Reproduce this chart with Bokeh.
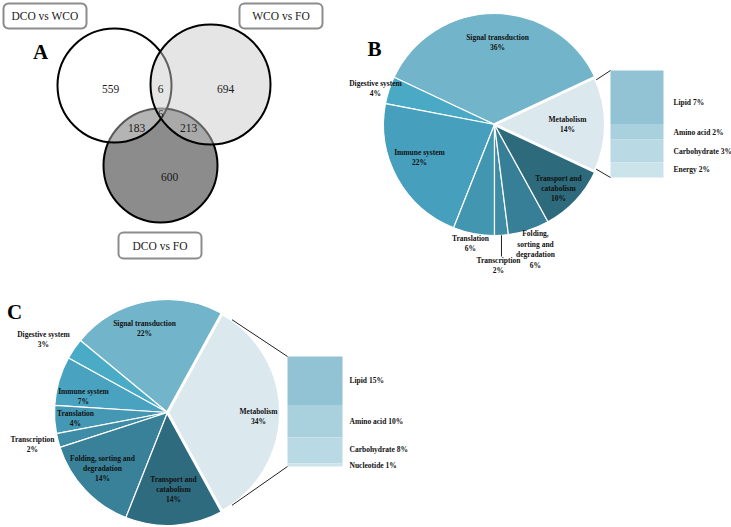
import numpy as np
from bokeh.plotting import figure
from bokeh.models import Range1d, ColumnDataSource
from bokeh.core.properties import value
from bokeh.embed import file_html
from bokeh.resources import INLINE

# ---------------- data ----------------
venn_sets = ["DCO vs WCO", "WCO vs FO", "DCO vs FO"]
# regions: A only, A∩B, B only, A∩B∩C, A∩C, B∩C, C only
venn_regions = ["A", "AB", "B", "ABC", "AC", "BC", "C"]
venn_counts = [559, 6, 694, 6, 183, 213, 600]

pie_categories = ["Metabolism", "Signal transduction", "Digestive system", "Immune system",
                  "Translation", "Transcription", "Folding, sorting and degradation",
                  "Transport and catabolism"]
pie_b_values = [14, 36, 4, 22, 6, 2, 6, 10]
bar_b_categories = ["Lipid", "Amino acid", "Carbohydrate", "Energy"]
bar_b_values = [7, 2, 3, 2]

pie_c_values = [34, 22, 3, 7, 4, 2, 14, 14]
bar_c_categories = ["Lipid", "Amino acid", "Carbohydrate", "Nucleotide"]
bar_c_values = [15, 10, 8, 1]

# ---------------- layout / style ----------------
SERIF = value("Liberation Serif")
W, H = 731, 527


def Y(py):
    return H - py


p = figure(width=W, height=H, x_range=Range1d(0, W), y_range=Range1d(0, H),
           x_axis_type=None, y_axis_type=None, toolbar_location=None,
           output_backend="svg", min_border=0, outline_line_color=None,
           background_fill_color="white", border_fill_color="white")
p.grid.visible = False

# ---------------- Venn (A) ----------------
venn_geom = {"A": (114, 85, 57), "B": (210, 84, 60), "C": (160, 165, 57)}
cx, cy, r = venn_geom["C"]
p.circle(x=[cx], y=[Y(cy)], radius=r, fill_color="#8c8c8c", fill_alpha=1,
         line_color="black", line_width=2)
cx, cy, r = venn_geom["A"]
p.circle(x=[cx], y=[Y(cy)], radius=r, fill_color="white", fill_alpha=0.35,
         line_color="black", line_width=2)
cx, cy, r = venn_geom["B"]
p.circle(x=[cx], y=[Y(cy)], radius=r, fill_color="#c9c9c9", fill_alpha=0.48,
         line_color="black", line_width=2)

venn_pos = {"A": (110, 88), "AB": (160, 88), "B": (225, 88), "ABC": (160, 113),
            "AC": (136, 127), "BC": (188, 127), "C": (169, 176)}
p.text(x=[venn_pos[k][0] for k in venn_regions], y=[Y(venn_pos[k][1]) for k in venn_regions],
       text=[str(c) for c in venn_counts], text_font=SERIF, text_font_size="11.5px",
       text_align="center", text_baseline="middle", text_color="#1a1a1a")

box_pos = [(3, 86, 3, 28), (239, 322, 3, 28), (118, 201, 232, 258)]
p.quad(left=[b[0] for b in box_pos], right=[b[1] for b in box_pos],
       top=[Y(b[2]) for b in box_pos], bottom=[Y(b[3]) for b in box_pos],
       fill_color="white", line_color="#8c8c8c", line_width=2, border_radius=5)
p.text(x=[(l + rr) / 2 for (l, rr, t, b) in box_pos],
       y=[Y((t + b) / 2) for (l, rr, t, b) in box_pos],
       text=venn_sets, text_font=SERIF, text_font_size="11.5px", text_align="center",
       text_baseline="middle", text_color="#1a1a1a")

# panel letters
p.text(x=[40, 374, 14], y=[Y(51), Y(48), Y(311)], text=["A", "B", "C"], text_font=SERIF,
       text_font_style="bold", text_font_size="21px", text_align="center",
       text_baseline="middle", text_color="black")


# ---------------- pies ----------------
def draw_pie(cx, cy, r, vals, colors):
    vals = np.asarray(vals, float)
    ang = vals / vals.sum() * 2 * np.pi
    start0 = -ang[0] / 2
    ends = start0 + np.cumsum(ang)
    starts = ends - ang
    n = len(vals)
    src = ColumnDataSource(dict(x=[cx] * n, y=[Y(cy)] * n, s=starts, e=ends, c=colors))
    p.wedge(x="x", y="y", radius=r, start_angle="s", end_angle="e", fill_color="c",
            line_color="white", line_width=1.2, source=src)
    p.wedge(x=[cx], y=[Y(cy)], radius=r, start_angle=[starts[0]], end_angle=[ends[0]],
            fill_color=colors[0], line_color="white", line_width=3)
    return starts, ends


def draw_bar(left, right, top_py, height_px, vals, colors):
    vals = np.asarray(vals, float)
    scale = height_px / vals.sum()
    cum = np.concatenate([[0], np.cumsum(vals)[:-1]])
    tops = Y(top_py) - cum * scale
    bottoms = tops - vals * scale
    p.quad(left=[left] * len(vals), right=[right] * len(vals), top=tops, bottom=bottoms,
           fill_color=colors, line_color=None)
    return tops[0], bottoms[-1]


def labels(pos, texts, size="7.5px"):
    p.text(x=[q[0] for q in pos], y=[Y(q[1]) for q in pos], text=texts, text_font=SERIF,
           text_font_style="bold", text_font_size=size, text_align="center",
           text_baseline="middle", text_color="#111111", text_line_height=1.15)


# ----- B -----
colors_b = ["#dbe8ee", "#72b5cb", "#4aa9c4", "#46a0bd", "#4396b0", "#3e8ca6", "#377f96", "#2d6a7c"]
bcx, bcy, br = 494, 124, 111
sb, eb = draw_pie(bcx, bcy, br, pie_b_values, colors_b)
wrap_b = {"Folding, sorting and degradation": "Folding,\nsorting and\ndegradation",
          "Transport and catabolism": "Transport and\ncatabolism"}
pos_b = [(567, 124), (497, 42), (375, 88), (419, 157), (470, 243), (498, 265), (535, 249),
         (558, 188)]
labels(pos_b, [f"{wrap_b.get(c, c)}\n{v}%" for c, v in zip(pie_categories, pie_b_values)])
# transcription leader line
mid_t = (sb[5] + eb[5]) / 2
p.segment(x0=[bcx + br * np.cos(mid_t)], y0=[Y(bcy) + br * np.sin(mid_t)],
          x1=[bcx + br * np.cos(mid_t)], y1=[Y(256)], line_color="#222222", line_width=1)

bar_b_colors = ["#92c3d4", "#a9d0dd", "#b9d9e4", "#cbe3eb"]
tb, bb = draw_bar(610, 663, 70, 107, bar_b_values, bar_b_colors)
ca = eb[0] - np.deg2rad(1.5)
p.segment(x0=[bcx + br * np.cos(ca), bcx + br * np.cos(-ca)],
          y0=[Y(bcy) + br * np.sin(ca), Y(bcy) + br * np.sin(-ca)],
          x1=[610, 610], y1=[tb, bb], line_color="#222222", line_width=1)
p.text(x=[673] * 4, y=[Y(102), Y(132), Y(151), Y(169)],
       text=[f"{c} {v}%" for c, v in zip(bar_b_categories, bar_b_values)], text_font=SERIF,
       text_font_style="bold", text_font_size="7.5px", text_align="left",
       text_baseline="middle", text_color="#111111")

# ----- C -----
colors_c = ["#dbe8ee", "#72b5cb", "#4aabc6", "#49a3c0", "#4598b3", "#3e8ca6", "#388198", "#2e6b7e"]
ccx, ccy, cr = 167, 412, 113
sc, ec = draw_pie(ccx, ccy, cr, pie_c_values, colors_c)
wrap_c = {"Folding, sorting and degradation": "Folding, sorting and\ndegradation",
          "Transport and catabolism": "Transport and\ncatabolism"}
pos_c = [(258, 416), (144, 328), (43, 339), (83, 396), (75, 418), (32, 444), (102, 468),
         (173, 489)]
labels(pos_c, [f"{wrap_c.get(c, c)}\n{v}%" for c, v in zip(pie_categories, pie_c_values)])

bar_c_colors = ["#92c3d4", "#a9d0dd", "#b9d9e4", "#cbe3eb"]
tc, bc = draw_bar(287, 342, 356, 110, bar_c_values, bar_c_colors)
ca = ec[0] - np.deg2rad(6)
p.segment(x0=[ccx + cr * np.cos(ca), ccx + cr * np.cos(-ca)],
          y0=[Y(ccy) + cr * np.sin(ca), Y(ccy) + cr * np.sin(-ca)],
          x1=[287, 287], y1=[tc, bc], line_color="#222222", line_width=1)
p.text(x=[349] * 4, y=[Y(380), Y(421), Y(449), Y(465)],
       text=[f"{c} {v}%" for c, v in zip(bar_c_categories, bar_c_values)], text_font=SERIF,
       text_font_style="bold", text_font_size="7.5px", text_align="left",
       text_baseline="middle", text_color="#111111")

open("out.html", "w").write(file_html(p, INLINE))
